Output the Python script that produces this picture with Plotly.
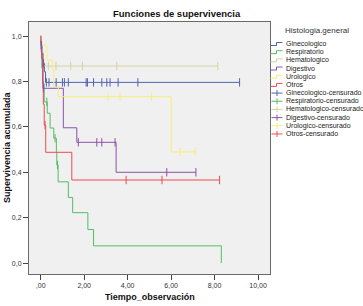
import plotly.graph_objects as go

# ---------------- data ----------------
groups = ["Ginecologico", "Respiratorio", "Hematologico", "Digestivo", "Urologico", "Otros"]

gin_event_t = [0.01, 0.05, 0.10, 0.17, 0.22]
gin_event_s = [0.96, 0.925, 0.88, 0.843, 0.796]
gin_cens_t = [0.03, 0.13, 0.26, 0.38, 0.71, 1.00, 1.09, 1.27, 2.09, 2.15, 2.43, 2.81,
              3.04, 3.19, 3.56, 4.47, 9.15]

res_event_t = [0.02, 0.05, 0.10, 0.16, 0.30, 0.43, 0.60, 0.72, 0.74, 0.80, 1.27, 1.47,
               2.17, 2.43, 8.31]
res_event_s = [0.93, 0.86, 0.79, 0.71, 0.66, 0.595, 0.55, 0.49, 0.432, 0.358, 0.289,
               0.222, 0.148, 0.076, 0.0]
res_cens_t = [0.28, 0.66, 0.77]

hem_event_t = [0.04, 0.12]
hem_event_s = [0.93, 0.868]
hem_cens_t = [0.35, 0.70, 1.38, 1.92, 3.50, 8.15]

dig_event_t = [0.01, 0.05, 0.10, 1.04, 1.66, 3.47]
dig_event_s = [0.96, 0.92, 0.77, 0.596, 0.532, 0.40]
dig_cens_t = [0.02, 0.12, 1.73, 2.58, 2.81, 3.42, 5.80, 7.14]

uro_event_t = [0.02, 0.28, 0.55, 0.60, 0.81, 6.00]
uro_event_s = [0.96, 0.894, 0.85, 0.777, 0.733, 0.49]
uro_cens_t = [3.09, 3.65, 5.10, 6.42, 7.10]

otr_event_t = [0.01, 0.04, 0.08, 0.12, 0.16, 0.23, 1.43]
otr_event_s = [0.97, 0.90, 0.80, 0.70, 0.608, 0.488, 0.366]
otr_cens_t = [0.20, 3.93, 5.58, 8.23]

x_tickvals = [0, 2, 4, 6, 8, 10]
x_ticktext = [",00", "2,00", "4,00", "6,00", "8,00", "10,00"]
y_tickvals = [0.0, 0.2, 0.4, 0.6, 0.8, 1.0]
y_ticktext = ["0,0", "0,2", "0,4", "0,6", "0,8", "1,0"]

colors = ["#5262B2", "#52BE62", "#D6D2A0", "#8A52A6", "#F6EE78", "#EC4C50"]

series = [
    (gin_event_t, gin_event_s, gin_cens_t),
    (res_event_t, res_event_s, res_cens_t),
    (hem_event_t, hem_event_s, hem_cens_t),
    (dig_event_t, dig_event_s, dig_cens_t),
    (uro_event_t, uro_event_s, uro_cens_t),
    (otr_event_t, otr_event_s, otr_cens_t),
]

# ---------------- layout geometry ----------------
W, H = 363, 306
PL, PR, PT, PB = 29, 270, 22, 274   # plot box in pixels


def px(x):
    return (x - PL) / (PR - PL)


def py(y):
    return (PB - y) / (PB - PT)


def step_value(ev_t, ev_s, t):
    v = 1.0
    for et, es in zip(ev_t, ev_s):
        if et <= t:
            v = es
    return v


fig = go.Figure()

for name, col, (et, es, ct) in zip(groups, colors, series):
    end_t = max(ct + et)
    xs = [0.0] + et
    ys = [1.0] + es
    if end_t > xs[-1]:
        xs.append(end_t)
        ys.append(ys[-1])
    fig.add_trace(go.Scatter(x=xs, y=ys, mode="lines", line=dict(color=col, width=1, shape="hv"),
                             name=name, showlegend=False, hoverinfo="skip"))
for name, col, (et, es, ct) in zip(groups, colors, series):
    cy = [step_value(et, es, t) for t in ct]
    fig.add_trace(go.Scatter(x=ct, y=cy, mode="markers",
                             marker=dict(symbol="line-ns-open", size=6, color=col,
                                         line=dict(color=col, width=1)),
                             name=name + "-censurado", showlegend=False, hoverinfo="skip"))

shapes = []
annotations = []

# legend (drawn manually to match the compact spacing)
legend_names = groups + [g + "-censurado" for g in groups]
legend_cols = colors + colors
y0 = 44.0
dy = 8.18
for i, (nm, col) in enumerate(zip(legend_names, legend_cols)):
    yc = y0 + i * dy
    if i < 6:
        path = "M {:.4f},{:.4f} L {:.4f},{:.4f} L {:.4f},{:.4f} L {:.4f},{:.4f}".format(
            px(270.5), py(yc + 1.5), px(276.5), py(yc + 1.5), px(276.5), py(yc - 1.5), px(282.5), py(yc - 1.5))
        shapes.append(dict(type="path", xref="paper", yref="paper", path=path,
                           line=dict(color=col, width=1)))
    else:
        shapes.append(dict(type="line", xref="paper", yref="paper", x0=px(271.5), x1=px(282.5),
                           y0=py(yc), y1=py(yc), line=dict(color=col, width=1)))
        shapes.append(dict(type="line", xref="paper", yref="paper", x0=px(277), x1=px(277),
                           y0=py(yc - 3), y1=py(yc + 3), line=dict(color=col, width=1)))
    annotations.append(dict(text=nm, xref="paper", yref="paper", x=px(283.5), y=py(yc),
                            xanchor="left", yanchor="middle", showarrow=False,
                            font=dict(family="Liberation Sans, Arial", size=7, color="#222222")))

annotations.append(dict(text="Histologia.general", xref="paper", yref="paper", x=px(282.5), y=py(30.5),
                        xanchor="left", yanchor="middle", showarrow=False,
                        font=dict(family="Liberation Sans, Arial", size=8, color="#333333")))
annotations.append(dict(text="<b>Funciones de supervivencia</b>", xref="paper", yref="paper",
                        x=px(177), y=py(14), xanchor="center", yanchor="middle", showarrow=False,
                        font=dict(family="Liberation Sans, Arial", size=9.5, color="#111111")))
annotations.append(dict(text="<b>Tiempo_observación</b>", xref="paper", yref="paper",
                        x=px(150), y=py(297), xanchor="center", yanchor="middle", showarrow=False,
                        font=dict(family="Liberation Sans, Arial", size=9, color="#111111")))
annotations.append(dict(text="<b>Supervivencia acumulada</b>", xref="paper", yref="paper",
                        x=px(7), y=py(147), xanchor="center", yanchor="middle", showarrow=False,
                        textangle=-90,
                        font=dict(family="Liberation Sans, Arial", size=9, color="#111111")))

fig.update_layout(
    template="none",
    width=W, height=H,
    margin=dict(l=PL, r=W - PR, t=PT, b=H - PB, pad=0),
    paper_bgcolor="white",
    plot_bgcolor="#F0F0F0",
    showlegend=False,
    shapes=shapes,
    annotations=annotations,
    font=dict(family="Liberation Sans, Arial", size=7, color="#333333"),
)
fig.update_xaxes(range=[-0.54, 10.55], tickvals=x_tickvals, ticktext=x_ticktext,
                 showgrid=False, zeroline=False, showline=True, mirror=True,
                 linecolor="#6A6A6A", linewidth=1, ticks="outside", ticklen=5, tickwidth=1,
                 tickcolor="#444444", tickfont=dict(size=7, color="#333333"), automargin=False)
fig.update_yaxes(range=[-0.048, 1.062], tickvals=y_tickvals, ticktext=y_ticktext,
                 showgrid=False, zeroline=False, showline=True, mirror=True,
                 linecolor="#6A6A6A", linewidth=1, ticks="outside", ticklen=5, tickwidth=1,
                 tickcolor="#444444", tickfont=dict(size=7, color="#333333"), automargin=False)

fig.write_html("out.html", config={"displayModeBar": False},
               post_script="document.body.style.margin='0';document.body.style.overflow='hidden';")
